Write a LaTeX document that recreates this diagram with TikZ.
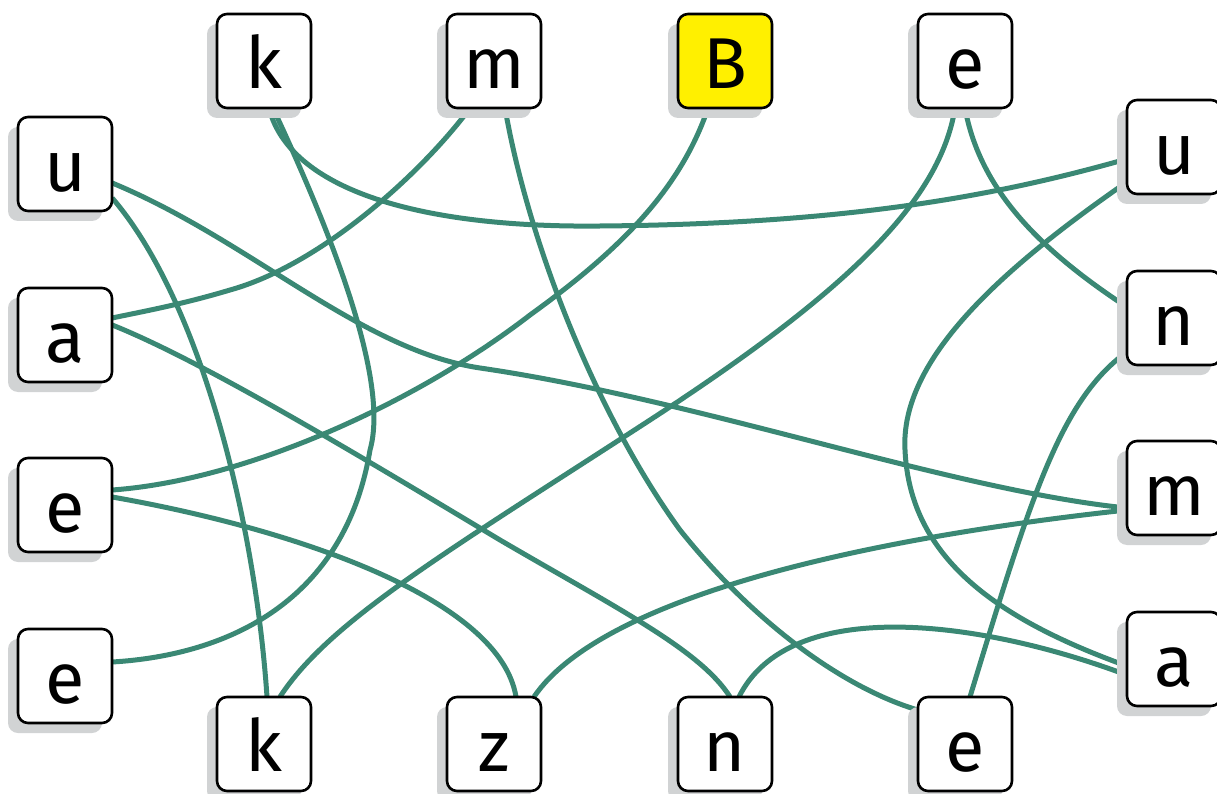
\documentclass[tikz,border=0pt]{standalone}
\usepackage{fontspec}
\setmainfont{Fira Sans}
\usetikzlibrary{calc,shadows}
\definecolor{edgegreen}{RGB}{58,136,116}
\definecolor{shadowgray}{RGB}{209,211,212}
\definecolor{hiyellow}{RGB}{255,240,0}
\begin{document}
\begin{tikzpicture}[x=1pt,y=-1pt,
  box/.style={draw=black,line width=2.6pt,rounded corners=10pt,fill=white,
    minimum width=94pt,minimum height=94pt,inner sep=0pt,
    text height=55pt,text depth=0pt,
    font=\fontsize{72}{72}\selectfont,
    drop shadow={shadow xshift=-10pt,shadow yshift=-10pt,fill=shadowgray,opacity=1}},
  hibox/.style={box,fill=hiyellow},
  anch/.style={minimum width=94pt,minimum height=94pt,inner sep=0pt},
  conn/.style={draw=edgegreen,line width=5pt}]
\useasboundingbox (0,0) rectangle (1217,794);
% anchor-only nodes used by the connectors (boxes are drawn over the connectors later)
\node[anch] (tk) at (264,61) {}; \node[anch] (tm) at (494,61) {}; \node[anch] (tB) at (725,61) {}; \node[anch] (te) at (965,61) {};
\node[anch] (lu) at (65,164) {}; \node[anch] (la) at (65,335) {}; \node[anch] (le1) at (65,505) {}; \node[anch] (le2) at (65,676) {};
\node[anch] (ru) at (1174,147) {}; \node[anch] (rn) at (1174,318) {}; \node[anch] (rm) at (1174,488) {}; \node[anch] (ra) at (1174,659) {};
\node[anch] (bk) at (264,744) {}; \node[anch] (bz) at (494,744) {}; \node[anch] (bn) at (725,744) {}; \node[anch] (be) at (965,744) {};
% 1 top k -> right u
\draw[conn] ($(tk.south)+(5,0)$) .. controls (290,190) and (420,228) .. (600,226) .. controls (850,224) and (1000,195) .. ($(ru.west)+(0,12)$);
% 2 top k -> left e (lower)
\draw[conn] ($(tk.south)+(9,0)$) .. controls (330,230) and (390,380) .. (370,450) .. controls (345,600) and (230,655) .. ($(le2.east)+(0,-14)$);
% 3 top m -> left a
\draw[conn] ($(tm.south)+(-24,0)$) .. controls (420,175) and (320,265) .. (230,290) .. controls (180,305) and (140,312) .. ($(la.east)+(0,-17)$);
% 4 top m -> bottom e
\draw[conn] ($(tm.south)+(11,0)$) .. controls (530,250) and (600,420) .. (680,530) .. controls (760,630) and (850,690) .. ($(be.west)+(0,-34)$);
% 5 B -> left e (upper)
\draw[conn] ($(tB.south)+(-17,0)$) .. controls (680,190) and (620,250) .. (530,315) .. controls (420,400) and (250,480) .. ($(le1.east)+(0,-15)$);
% 6 top e -> bottom k
\draw[conn] ($(te.south)+(-10,0)$) .. controls (940,200) and (850,290) .. (650,420) .. controls (450,550) and (330,620) .. ($(bk.north)+(16,0)$);
% 7 top e -> right n
\draw[conn] (te.south) .. controls (980,190) and (1040,250) .. ($(rn.west)+(0,-11)$);
% 8 left u -> right m
\draw[conn] ($(lu.east)+(0,19)$) .. controls (250,240) and (360,350) .. (480,368) .. controls (700,400) and (950,490) .. ($(rm.west)+(0,20)$);
% 9 left u -> bottom k
\draw[conn] ($(lu.east)+(0,34)$) .. controls (200,300) and (255,520) .. ($(bk.north)+(3,0)$);
% 10 left a -> bottom n
\draw[conn] ($(la.east)+(0,-10)$) .. controls (200,360) and (350,450) .. (500,540) .. controls (620,610) and (700,650) .. ($(bn.north)+(5,0)$);
% 11 left e (upper) -> bottom z
\draw[conn] ($(le1.east)+(0,-8)$) .. controls (300,530) and (500,600) .. ($(bz.north)+(22,0)$);
% 12 right u -> right a
\draw[conn] ($(ru.west)+(0,35)$) .. controls (1000,270) and (900,360) .. (905,450) .. controls (910,560) and (1000,620) .. ($(ra.west)+(0,7)$);
% 13 right n -> bottom e
\draw[conn] ($(rn.west)+(0,34)$) .. controls (1060,400) and (1030,500) .. ($(be.north)+(5,0)$);
% 14 right m -> bottom z
\draw[conn] ($(rm.west)+(0,22)$) .. controls (850,540) and (600,600) .. ($(bz.north)+(40,0)$);
% 15 right a -> bottom n
\draw[conn] ($(ra.west)+(0,16)$) .. controls (980,620) and (790,595) .. ($(bn.north)+(14,0)$);
% ---- boxes
\node[box]   (Btk) at (tk) {k};
\node[box]   (Btm) at (tm) {m};
\node[hibox] (BtB) at (tB) {B};
\node[box]   (Bte) at (te) {e};
\node[box]   (Blu) at (lu) {u};
\node[box]   (Bla) at (la) {a};
\node[box]   (Ble1) at (le1) {e};
\node[box]   (Ble2) at (le2) {e};
\node[box]   (Bru) at (ru) {u};
\node[box]   (Brn) at (rn) {n};
\node[box]   (Brm) at (rm) {m};
\node[box]   (Bra) at (ra) {a};
\node[box]   (Bbk) at (bk) {k};
\node[box]   (Bbz) at (bz) {z};
\node[box]   (Bbn) at (bn) {n};
\node[box]   (Bbe) at (be) {e};
\end{tikzpicture}
\end{document}
